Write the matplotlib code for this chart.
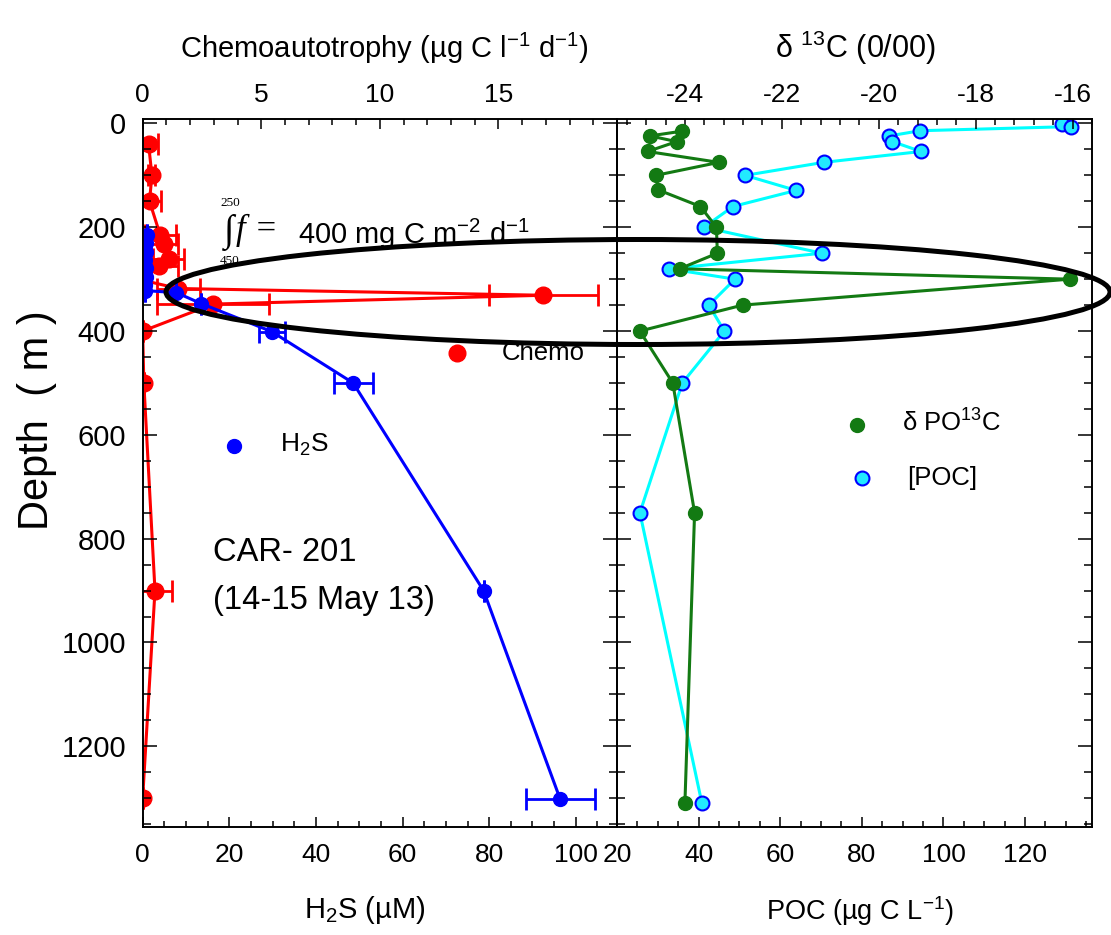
import matplotlib
matplotlib.use('Agg')
import matplotlib.pyplot as plt
from matplotlib.patches import Ellipse
from matplotlib.ticker import MultipleLocator

plt.rcParams['font.family'] = ['Liberation Sans', 'DejaVu Sans']
plt.rcParams['mathtext.fontset'] = 'custom'
plt.rcParams['mathtext.rm'] = 'Liberation Sans'
plt.rcParams['mathtext.it'] = 'Liberation Sans:italic'
SERIF = ['Liberation Serif', 'DejaVu Serif']

# left panel: chemoautotrophy (top axis) and H2S (bottom axis)
chemo_depth = [40, 100, 150, 215, 232, 262, 275, 302, 318, 331, 348, 400, 500, 900, 1300]
chemo_val = [0.25, 0.39, 0.29, 0.74, 0.88, 1.09, 0.7, 0.0, 1.5, 16.9, 2.97, 0.0, 0.05, 0.52, 0.0]
chemo_err = [0.4, 0.15, 0.5, 0.65, 0.6, 0.65, 0.8, 0, 0.9, 2.3, 2.35, 0, 0, 0.7, 0]

h2s_depth = [215, 231, 247, 263, 279, 295, 312, 322, 326, 347, 401, 500, 900, 1302]
h2s_val = [1.0, 0.8, 0.7, 0.6, 0.8, 0.7, 0.6, 0.6, 7.8, 13.5, 29.8, 48.6, 78.7, 96.4]
h2s_err = [0, 0, 0, 0, 0, 0, 0, 0, 0, 0, 3.0, 4.5, 0, 8.0]

# right panel: delta 13C of POC (top axis) and POC (bottom axis)
d13c_depth = [15, 24, 35, 54, 75, 100, 128, 160, 200, 250, 280, 300, 350, 400, 500, 750, 1310]
d13c_val = [-24.07, -24.72, -24.17, -24.77, -23.30, -24.60, -24.55, -23.68, -23.35,
            -23.33, -24.11, -16.06, -22.81, -24.93, -24.25, -23.80, -24.00]
poc_depth = [1, 6, 14, 24, 35, 54, 75, 100, 129, 160, 200, 250, 280, 300, 350, 400, 500, 750, 1310]
poc_val = [129.0, 131.3, 94.3, 86.7, 87.5, 94.5, 70.6, 51.4, 63.9, 48.4, 41.3, 70.2,
           32.8, 48.9, 42.5, 46.3, 36.0, 25.6, 40.8]

depth_ticks = [0, 200, 400, 600, 800, 1000, 1200]
chemo_ticks = [0, 5, 10, 15]
h2s_ticks = [0, 20, 40, 60, 80, 100]
d13c_ticks = [-24, -22, -20, -18, -16]
poc_ticks = [20, 40, 60, 80, 100, 120]

GREEN = '#137a13'
TICKFS = 19

fig = plt.figure(figsize=(11.11, 9.35), dpi=100)
ax1 = fig.add_axes([0.1284, 0.1158, 0.4269, 0.7566])
ax2 = fig.add_axes([0.5554, 0.1158, 0.4275, 0.7566])
ax1t = ax1.twiny()
ax2t = ax2.twiny()


def style(ax, top):
    for s in ax.spines.values():
        s.set_linewidth(1.2)
    ax.tick_params(which='both', direction='in', width=1.1, top=top, bottom=not top,
                   labeltop=top, labelbottom=not top, left=True, right=True, labelleft=False)
    ax.tick_params(which='major', length=7)
    ax.tick_params(which='minor', length=4.5)
    ax.tick_params(axis='y', which='major', length=10)
    ax.tick_params(axis='y', which='minor', length=6)
    ax.tick_params(axis='x', pad=9 if top else 12)


for ax in (ax1, ax2, ax1t, ax2t):
    ax.set_ylim(1355, -8)
    ax.set_yticks(depth_ticks)
    ax.yaxis.set_minor_locator(MultipleLocator(50))

style(ax1, False)
style(ax2, False)
style(ax1t, True)
style(ax2t, True)
ax1.tick_params(axis='y', labelleft=True, labelsize=21, pad=12)

# left panel
ax1t.errorbar(chemo_val, chemo_depth, xerr=chemo_err, color='red', marker='o', ms=12,
              lw=2.2, elinewidth=2, capsize=8, capthick=2)
ax1.errorbar(h2s_val, h2s_depth, xerr=h2s_err, color='blue', marker='o', ms=10,
             lw=2.2, elinewidth=2, capsize=8, capthick=2)
ax1.set_zorder(ax1t.get_zorder() + 1)
ax1.patch.set_visible(False)

ax1.set_xlim(0, 109.5)
ax1.set_xticks(h2s_ticks, labels=[str(t) for t in h2s_ticks], fontsize=TICKFS)
ax1.xaxis.set_minor_locator(MultipleLocator(5))
ax1t.set_xlim(0, 20)
ax1t.set_xticks(chemo_ticks, labels=[str(t) for t in chemo_ticks], fontsize=TICKFS)
ax1t.xaxis.set_minor_locator(MultipleLocator(1))

# right panel
ax2.plot(poc_val, poc_depth, color='cyan', lw=2.2, marker='o', ms=10,
         mfc='#22eaff', mec='blue', mew=1.5)
ax2t.plot(d13c_val, d13c_depth, color=GREEN, lw=2.2, marker='o', ms=10)

ax2.set_xlim(20, 136.4)
ax2.set_xticks(poc_ticks, labels=[str(t) for t in poc_ticks], fontsize=TICKFS)
ax2.xaxis.set_minor_locator(MultipleLocator(5))
ax2t.set_xlim(-25.4, -15.6)
ax2t.set_xticks(d13c_ticks, labels=[str(t) for t in d13c_ticks], fontsize=TICKFS)
ax2t.xaxis.set_minor_locator(MultipleLocator(0.4))

# axis titles
ax1.set_ylabel('Depth  ( m )', fontsize=30)
ax1.yaxis.set_label_coords(-0.18, 0.575)
ax1.set_xlabel('H$_2$S (µM)', fontsize=21)
ax1.xaxis.set_label_coords(0.469, -0.095)
ax1t.set_xlabel('Chemoautotrophy (µg C l$^{-1}$ d$^{-1}$)', fontsize=21)
ax1t.xaxis.set_label_coords(0.509, 1.087)
ax2.set_xlabel('POC (µg C L$^{-1}$)', fontsize=19.5)
ax2.xaxis.set_label_coords(0.512, -0.095)
ax2t.set_xlabel('δ $^{13}$C (0/00)', fontsize=22)
ax2t.xaxis.set_label_coords(0.501, 1.087)

# in-panel keys and notes
ax1.plot([0.662], [0.670], 'o', color='red', ms=12, transform=ax1.transAxes, clip_on=False)
ax1.text(0.757, 0.670, 'Chemo', fontsize=18.5, va='center', transform=ax1.transAxes)
ax1.plot([0.193], [0.538], 'o', color='blue', ms=10, transform=ax1.transAxes)
ax1.text(0.290, 0.540, 'H$_2$S', fontsize=19, va='center', transform=ax1.transAxes)
ax1.text(0.148, 0.387, 'CAR- 201', fontsize=23.5, va='center', transform=ax1.transAxes)
ax1.text(0.148, 0.320, '(14-15 May 13)', fontsize=23.5, va='center', transform=ax1.transAxes)

ax1.text(0.172, 0.840, '∫', fontsize=27, family=SERIF,
         ha='left', va='center', transform=ax1.transAxes)
ax1.text(0.184, 0.881, '250', fontsize=9.5, family=SERIF,
         ha='center', va='center', transform=ax1.transAxes)
ax1.text(0.184, 0.799, '450', fontsize=9.5, family=SERIF,
         ha='center', va='center', transform=ax1.transAxes)
ax1.text(0.196, 0.843, 'f =', fontsize=25, family=SERIF,
         style='italic', ha='left', va='center', transform=ax1.transAxes)
ax1.text(0.328, 0.838, '400 mg C m$^{-2}$ d$^{-1}$', fontsize=21, va='center',
         transform=ax1.transAxes)

ax2.plot([0.505], [0.568], 'o', color=GREEN, ms=10, transform=ax2.transAxes)
ax2.text(0.600, 0.570, 'δ PO$^{13}$C', fontsize=18.5, va='center', transform=ax2.transAxes)
ax2.plot([0.516], [0.493], 'o', mfc='#22eaff', mec='blue', mew=1.5, ms=10,
         transform=ax2.transAxes)
ax2.text(0.611, 0.493, '[POC]', fontsize=18.5, va='center', transform=ax2.transAxes)

# highlight ellipse across both panels
fig.add_artist(Ellipse((0.5743, 0.6877), 0.8497, 0.1123, transform=fig.transFigure,
                       fill=False, ec='black', lw=3.6, zorder=10))

fig.savefig('out.png', dpi=100)
